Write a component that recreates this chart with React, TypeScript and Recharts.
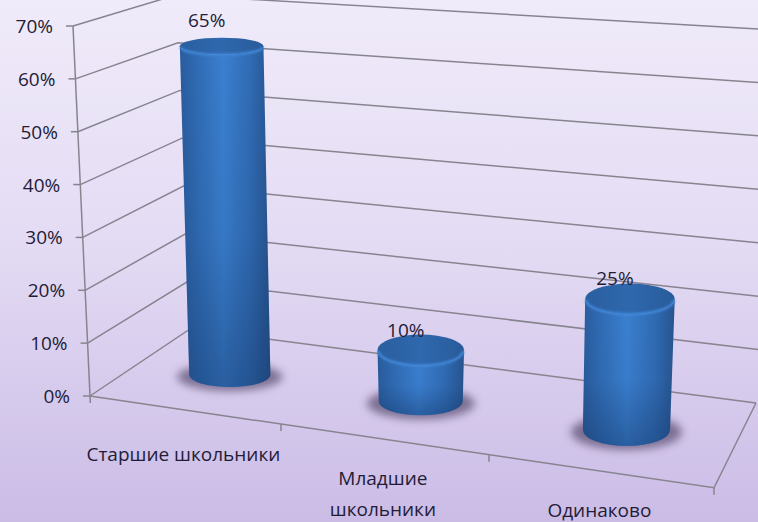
import React from 'react';
import { BarChart, Bar, XAxis, YAxis, CartesianGrid, LabelList } from 'recharts';

const categories = ['Старшие школьники', 'Младшие школьники', 'Одинаково'];
const shares = [65, 10, 25];
const percentTicks = [0, 10, 20, 30, 40, 50, 60, 70];

const WIDTH = 758;
const HEIGHT = 522;
const PLOT_LEFT = 90;
const PLOT_RIGHT = 715;
const PLOT_TOP = 26;
const PLOT_BOTTOM = 396;
const FONT = '"Open Sans", "Noto Sans", sans-serif';
const INK = '#231c38';
const LINE = '#87848f';

// small fake perspective: everything below starts from the library's pixel positions
const wallPos = (y: number) => (y - PLOT_TOP) / (PLOT_BOTTOM - PLOT_TOP);
const axisX = (y: number) => 73 + 17 * wallPos(y);
const cornerX = (y: number) => 176 + 14 * wallPos(y);
const cornerY = (y: number) => -5 + 334 * wallPos(y);
const rightY = (y: number) => 29 + 374 * wallPos(y);

const frontX = (t: number) => 90 + 547.5 * t + 76.5 * t * t;
const frontY = (t: number) => 396 + 0.147 * (frontX(t) - 90);
const backX = (t: number) => 190 + 566 * t - 56 * t * (1 - t);
const backY = (t: number) => 329 + 0.13 * (backX(t) - 190);
const floorPoint = (t: number, u: number) => ({
  x: frontX(t) + (backX(t) - frontX(t)) * u,
  y: frontY(t) + (backY(t) - frontY(t)) * u,
});
const bandPos = (px: number) => (px - PLOT_LEFT) / (PLOT_RIGHT - PLOT_LEFT);

const cylinderGeometry = (x: number, width: number, height: number) => {
  const base = floorPoint(bandPos(x + width / 2), 0.5);
  const h = height * (0.957 + (base.x - 231) * 0.00009);
  const lean = h * (base.x - 421) * 0.00013;
  const bottomW = width + (base.x - 421) * 0.015;
  const topW = bottomW + 2.5;
  const topX = base.x + lean;
  const topY = base.y - h;
  const topRy = Math.min(15.5, 8.5 + (topY - 46) * 0.027);
  const bottomRy = 12 + (base.y - 375) * 0.07;
  return { base, topX, topY, topW, bottomW, topRy, bottomRy };
};

const Cylinder = (props: any) => {
  const { x, width, height, index } = props;
  const g = cylinderGeometry(x, width, height);
  const { base, topX, topY, topW, bottomW, topRy, bottomRy } = g;
  const rxB = bottomW / 2;
  const rxT = topW / 2;
  const body =
    `M ${topX - rxT} ${topY} L ${base.x - rxB} ${base.y} ` +
    `A ${rxB} ${bottomRy} 0 0 0 ${base.x + rxB} ${base.y} ` +
    `L ${topX + rxT} ${topY} A ${rxT} ${topRy} 0 0 1 ${topX - rxT} ${topY} Z`;
  const rim = `M ${topX - rxT + 1} ${topY + 1} A ${rxT - 1} ${topRy - 1} 0 0 0 ${topX + rxT - 1} ${topY + 1}`;
  const id = `cyl-${index}`;
  return (
    <g>
      <defs>
        <linearGradient id={`${id}-side`} x1="0" y1="0" x2="1" y2="0">
          <stop offset="0%" stopColor="#2a5c9d" />
          <stop offset="20%" stopColor="#306cb5" />
          <stop offset="48%" stopColor="#3b80d0" />
          <stop offset="78%" stopColor="#306bb4" />
          <stop offset="100%" stopColor="#27548f" />
        </linearGradient>
        <linearGradient id={`${id}-fade`} x1="0" y1="0" x2="0" y2="1">
          <stop offset="0%" stopColor="#123260" stopOpacity="0" />
          <stop offset="55%" stopColor="#123260" stopOpacity={height > 200 ? 0.1 : 0.05} />
          <stop offset="100%" stopColor="#123260" stopOpacity="0.42" />
        </linearGradient>
        <linearGradient id={`${id}-cap`} x1="0" y1="0" x2="1" y2="0">
          <stop offset="0%" stopColor="#2a5f9f" />
          <stop offset="50%" stopColor="#2f68ae" />
          <stop offset="100%" stopColor="#285b9a" />
        </linearGradient>
        <filter id={`${id}-blur`} x="-30%" y="-60%" width="160%" height="220%">
          <feGaussianBlur stdDeviation="4.5" />
        </filter>
        <filter id={`${id}-soft`} x="-10%" y="-30%" width="120%" height="180%">
          <feGaussianBlur stdDeviation="0.9" />
        </filter>
      </defs>
      <ellipse
        cx={base.x}
        cy={base.y + 2}
        rx={rxB + 12}
        ry={bottomRy + 2}
        fill="#5a4d70"
        opacity={0.72}
        filter={`url(#${id}-blur)`}
      />
      <path d={body} fill={`url(#${id}-side)`} />
      <path d={body} fill={`url(#${id}-fade)`} />
      <ellipse cx={topX} cy={topY} rx={rxT} ry={topRy} fill={`url(#${id}-cap)`} />
      <path d={rim} fill="none" stroke="#3f86d8" strokeWidth={2.5} filter={`url(#${id}-soft)`} />
    </g>
  );
};

const labelLift = [18, 5, 6];

const PercentLabel = (props: any) => {
  const { x, width, height, value, index } = props;
  const g = cylinderGeometry(x, width, height);
  return (
    <text
      x={g.topX - 15}
      y={g.topY - g.topRy - labelLift[index]}
      textAnchor="middle"
      dominantBaseline="central"
      fontFamily={FONT}
      fontSize={19}
      fill={INK}
    >
      {`${value}%`}
    </text>
  );
};

const WallLine = (props: any) => {
  const y = props.y1;
  const last = Math.abs(y - PLOT_BOTTOM) < 1;
  const first = Math.abs(y - PLOT_TOP) < 1;
  const rx = last ? 756 : 758;
  return (
    <g stroke={LINE} strokeWidth={1.5} fill="none">
      <polyline
        points={`${axisX(y)},${y} ${cornerX(y)},${cornerY(y)} ${rx},${rightY(y)}`}
      />
      {first && <line x1={axisX(PLOT_TOP)} y1={PLOT_TOP} x2={axisX(PLOT_BOTTOM + 7)} y2={PLOT_BOTTOM + 7} />}
      {last && (
        <polyline
          points={`${frontX(0)},${frontY(0)} ${frontX(1)},${frontY(1)} ${rx},${rightY(y)}`}
        />
      )}
    </g>
  );
};

const PercentTick = (props: any) => {
  const { y, payload } = props;
  const ax = axisX(y);
  return (
    <g>
      <line x1={ax - 7} y1={y} x2={ax} y2={y} stroke={LINE} strokeWidth={1.5} />
      <text
        x={ax - 20}
        y={y}
        textAnchor="end"
        dominantBaseline="central"
        fontFamily={FONT}
        fontSize={19}
        fill={INK}
      >
        {`${payload.value}%`}
      </text>
    </g>
  );
};

const labelDrop = [44, 39, 39];
const labelLines: string[][] = [['Старшие школьники'], ['Младшие', 'школьники'], ['Одинаково']];

const CategoryTick = (props: any) => {
  const { x, index } = props;
  const band = (PLOT_RIGHT - PLOT_LEFT) / categories.length;
  const t = bandPos(x);
  const tEnd = bandPos(x + band / 2);
  const lines = labelLines[index];
  return (
    <g>
      <line
        x1={frontX(tEnd)}
        y1={frontY(tEnd)}
        x2={frontX(tEnd)}
        y2={frontY(tEnd) + 7}
        stroke={LINE}
        strokeWidth={1.5}
      />
      {lines.map((line, i) => (
        <text
          key={line}
          x={frontX(t)}
          y={frontY(t) + labelDrop[index] + i * 31}
          textAnchor="middle"
          dominantBaseline="central"
          fontFamily={FONT}
          fontSize={19}
          fill={INK}
        >
          {line}
        </text>
      ))}
    </g>
  );
};

const chartData = categories.map((name, i) => ({ name, share: shares[i] }));

export default function App() {
  return (
    <div
      style={{
        position: 'absolute',
        left: 0,
        top: 0,
        width: WIDTH,
        height: HEIGHT,
        overflow: 'hidden',
        background: 'linear-gradient(180deg, #f0ebfa 0%, #e4dcf4 45%, #cbbce6 100%)',
      }}
    >
      <BarChart
        width={WIDTH}
        height={HEIGHT}
        data={chartData}
        margin={{ top: PLOT_TOP, right: WIDTH - PLOT_RIGHT, bottom: 0, left: 0 }}
        barSize={84}
      >
        <CartesianGrid horizontal={(p: any) => <WallLine key={p.key} {...p} />} vertical={false} />
        <XAxis
          dataKey="name"
          height={HEIGHT - PLOT_BOTTOM}
          axisLine={false}
          tickLine={false}
          interval={0}
          tick={<CategoryTick />}
        />
        <YAxis
          width={PLOT_LEFT}
          domain={[0, 70]}
          ticks={percentTicks}
          axisLine={false}
          tickLine={false}
          tick={<PercentTick />}
        />
        <Bar dataKey="share" isAnimationActive={false} shape={<Cylinder />}>
          <LabelList dataKey="share" content={<PercentLabel />} />
        </Bar>
      </BarChart>
    </div>
  );
}
